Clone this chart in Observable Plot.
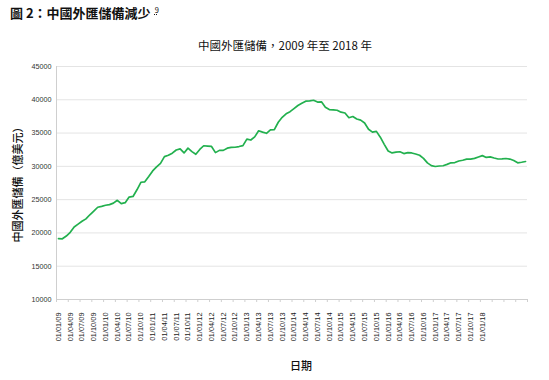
<!DOCTYPE html>
<html>
<head>
<meta charset="utf-8">
<script src="https://cdn.jsdelivr.net/npm/d3@7"></script>
<script src="https://cdn.jsdelivr.net/npm/@observablehq/plot@0.6"></script>
<style>
  html, body { margin: 0; padding: 0; background: #fff; }
  #wrap { position: relative; width: 549px; height: 380px; overflow: hidden; font-family: "Noto Sans CJK TC", "Noto Sans", sans-serif; }
  #fig { position: absolute; left: 10px; top: 3px; font-size: 13px; font-weight: bold; color: #111; white-space: nowrap; }
  #fig sup { font-size: 7.5px; font-weight: normal; text-decoration: underline dotted; vertical-align: 5px; margin-left: 4px; }
  #sub { position: absolute; left: 0; width: 570px; top: 37px; text-align: center; font-size: 11.5px; color: #111; white-space: nowrap; }
  #ytitle { position: absolute; left: 17px; top: 182px; transform: translate(-50%, -50%) rotate(-90deg); font-size: 11px; color: #111; white-space: nowrap; font-weight: 500; }
  #xtitle { position: absolute; left: 301px; top: 365px; transform: translate(-50%, -50%); font-size: 11px; color: #111; white-space: nowrap; font-weight: 500; }
  #chart { position: absolute; left: 0; top: 0; }
</style>
</head>
<body>
<div id="wrap">
  <div id="chart"></div>
  <div id="fig">圖 2：中國外匯儲備減少<sup>9</sup></div>
  <div id="sub">中國外匯儲備，2009 年至 2018 年</div>
  <div id="ytitle">中國外匯儲備（億美元）</div>
  <div id="xtitle">日期</div>
</div>
<script>
// Monthly foreign exchange reserves (億美元), Jan 2009 – Dec 2018
const reserves2009 = [19134, 19121, 19537, 20089, 20895, 21316, 21746, 22108, 22726, 23283, 23856, 23992];
const reserves2010 = [24153, 24250, 24471, 24905, 24395, 24543, 25380, 25480, 26483, 27608, 27680, 28473];
const reserves2011 = [29316, 29914, 30447, 31458, 31662, 31975, 32453, 32625, 32017, 32738, 32209, 31811];
const reserves2012 = [32536, 33096, 33050, 32990, 32061, 32400, 32400, 32729, 32851, 32874, 32977, 33116];
const reserves2013 = [34100, 33954, 34426, 35345, 35148, 34967, 35478, 35530, 36627, 37366, 37895, 38213];
const reserves2014 = [38666, 39137, 39481, 39788, 39838, 39932, 39662, 39688, 38877, 38529, 38473, 38430];
const reserves2015 = [38134, 38015, 37300, 37481, 37111, 36938, 36513, 35574, 35141, 35255, 34383, 33304];
const reserves2016 = [32309, 32023, 32126, 32197, 31917, 32052, 32011, 31852, 31664, 31206, 30516, 30105];
const reserves2017 = [29982, 30051, 30091, 30295, 30536, 30568, 30807, 30915, 31085, 31092, 31193, 31399];
const reserves2018 = [31614, 31345, 31428, 31249, 31106, 31121, 31179, 31097, 30870, 30531, 30617, 30727];

const reserves = [].concat(reserves2009, reserves2010, reserves2011, reserves2012, reserves2013,
  reserves2014, reserves2015, reserves2016, reserves2017, reserves2018);

const xTickLabels = [
  "01/01/09","01/04/09","01/07/09","01/10/09",
  "01/01/10","01/04/10","01/07/10","01/10/10",
  "01/01/11","01/04/11","01/07/11","01/10/11",
  "01/01/12","01/04/12","01/07/12","01/10/12",
  "01/01/13","01/04/13","01/07/13","01/10/13",
  "01/01/14","01/04/14","01/07/14","01/10/14",
  "01/01/15","01/04/15","01/07/15","01/10/15",
  "01/01/16","01/04/16","01/07/16","01/10/16",
  "01/01/17","01/04/17","01/07/17","01/10/17",
  "01/01/18"
];
const yTicks = [10000, 15000, 20000, 25000, 30000, 35000, 40000, 45000];

const data = reserves.map((v, i) => ({i, v}));
const labelPos = xTickLabels.map((_, k) => k * 3);
const tickPos = d3.range(0, 41).map(k => k * 3 - 0.5);

const chart = Plot.plot({
  width: 549,
  height: 380,
  marginLeft: 56,
  marginRight: 22,
  marginTop: 66,
  marginBottom: 81,
  style: {fontFamily: "'Liberation Sans', Arial, sans-serif", color: "#333", background: "transparent"},
  x: {type: "linear", domain: [-0.5, 119.5]},
  y: {domain: [10000, 45000]},
  marks: [
    Plot.gridY(yTicks, {stroke: "#e4e4e4", strokeOpacity: 1}),
    Plot.ruleX([-0.5], {stroke: "#cfcfcf"}),
    Plot.ruleY([10000], {stroke: "#cfcfcf"}),
    Plot.axisY(yTicks, {tickSize: 0, tickPadding: 5, fontSize: 7.2, label: null, tickFormat: d => String(d), fill: "#333"}),
    Plot.axisX(tickPos, {tickSize: 3, stroke: "#cfcfcf", text: null, label: null}),
    Plot.axisX(labelPos, {tickSize: 0, tickPadding: 13, tickRotate: -90, fontSize: 7.4, label: null,
      tickFormat: d => xTickLabels[d / 3], fill: "#222"}),
    Plot.lineY(data, {x: "i", y: "v", stroke: "#22b04e", strokeWidth: 1.7})
  ]
});
document.getElementById("chart").appendChild(chart);
</script>
</body>
</html>
